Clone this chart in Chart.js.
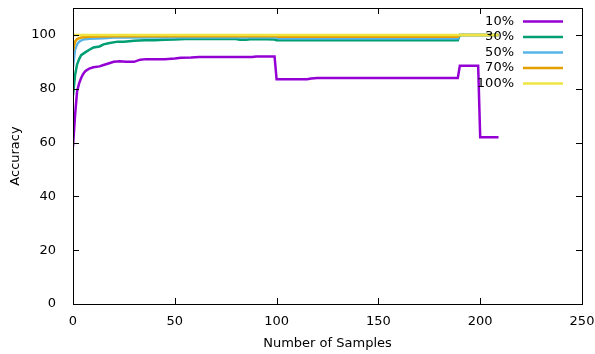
<!DOCTYPE html>
<html>
<head>
<meta charset="utf-8">
<script src="https://cdn.jsdelivr.net/npm/chart.js@4"></script>
<style>
  html, body { margin: 0; padding: 0; background: #fff; }
  #wrap { width: 595px; height: 354px; position: relative; }
</style>
</head>
<body>
<div id="wrap"><canvas id="chart"></canvas></div>
<script>
// series labels and values
const seriesLabels = ["10%", "30%", "50%", "70%", "100%"];
const seriesColors = ["#9400d3", "#009e73", "#56b4e9", "#e69f00", "#f0e442"];

const x10 = [0, 1, 2, 3, 4, 5, 6, 7, 8, 10, 13, 15, 17, 20, 23, 26, 30, 33, 36, 40, 45, 50, 53, 58, 62, 70, 80, 88, 90, 99, 100, 115, 117, 120, 150, 189, 190, 199, 200, 209];
const y10 = [58.5, 70, 79, 82, 84, 85.5, 86.5, 87, 87.5, 88, 88.3, 88.8, 89.3, 90, 90.2, 90, 90, 90.8, 91, 91, 91, 91.2, 91.5, 91.6, 91.8, 91.8, 91.8, 91.8, 92, 92, 83.5, 83.5, 83.8, 84, 84, 84, 88.5, 88.5, 62, 62];

const x30 = [0, 1, 2, 3, 4, 6, 8, 10, 13, 15, 18, 22, 25, 30, 35, 40, 45, 50, 55, 60, 80, 82, 85, 88, 95, 99, 100, 189, 190, 209];
const y30 = [77.5, 85, 89, 91, 92.5, 93.5, 94.5, 95.3, 95.7, 96.5, 97, 97.5, 97.5, 97.8, 98, 98, 98.2, 98.3, 98.5, 98.5, 98.5, 98.2, 98.2, 98.5, 98.4, 98.3, 98, 98, 100, 100];

const x50 = [0, 1, 2, 3, 5, 8, 15, 20, 100, 101, 189, 190, 209];
const y50 = [88, 94.5, 96.5, 97.5, 98.3, 98.6, 98.8, 99, 99, 98.7, 98.7, 100, 100];

const x70 = [0, 1, 2, 4, 8, 20, 100, 101, 189, 190, 209];
const y70 = [94, 97.5, 98.5, 99, 99.3, 99.5, 99.5, 99.3, 99.3, 100, 100];

const x100 = [0, 209];
const y100 = [100, 100];

const xTicks = [0, 50, 100, 150, 200, 250];
const yTicks = [0, 20, 40, 60, 80, 100];

const FONT = "DejaVu Sans";

function pts(xs, ys) {
  return xs.map((x, i) => ({ x: x, y: ys[i] }));
}

const allX = [x10, x30, x50, x70, x100];
const allY = [y10, y30, y50, y70, y100];

const datasets = seriesLabels.map((label, i) => ({
  label: label,
  data: pts(allX[i], allY[i]),
  borderColor: seriesColors[i],
  borderWidth: 2.5,
  pointRadius: 0,
  tension: 0,
  fill: false,
  order: seriesLabels.length - i,
}));

// gnuplot-like frame with inward ticks on all four sides
const framePlugin = {
  id: "frame",
  afterDraw(chart) {
    const { ctx, chartArea: a, scales } = chart;
    ctx.save();
    ctx.strokeStyle = "#000";
    ctx.lineWidth = 1;
    ctx.beginPath();
    xTicks.forEach((v) => {
      const px = Math.round(scales.x.getPixelForValue(v)) + 0.5;
      ctx.moveTo(px, a.bottom);
      ctx.lineTo(px, a.bottom - 6);
      ctx.moveTo(px, a.top);
      ctx.lineTo(px, a.top + 6);
    });
    yTicks.forEach((v) => {
      const py = Math.round(scales.y.getPixelForValue(v)) + 0.5;
      ctx.moveTo(a.left, py);
      ctx.lineTo(a.left + 6, py);
      ctx.moveTo(a.right, py);
      ctx.lineTo(a.right - 6, py);
    });
    ctx.stroke();
    ctx.strokeRect(Math.round(a.left) + 0.5, Math.round(a.top) + 0.5,
      Math.round(a.right - a.left), Math.round(a.bottom - a.top));
    ctx.restore();
  },
};

// legend in the top-right corner: text right-aligned, sample line after it
const legendPlugin = {
  id: "keyBox",
  afterDatasetsDraw(chart) {
    const { ctx } = chart;
    ctx.save();
    ctx.font = "13px '" + FONT + "'";
    ctx.textAlign = "right";
    ctx.textBaseline = "middle";
    seriesLabels.forEach((label, i) => {
      const y = 21.5 + i * 15.5;
      ctx.fillStyle = "#000";
      ctx.fillText(label, 514, y);
      ctx.strokeStyle = seriesColors[i];
      ctx.lineWidth = 2.5;
      ctx.beginPath();
      ctx.moveTo(523, y);
      ctx.lineTo(563, y);
      ctx.stroke();
    });
    ctx.restore();
  },
};

new Chart(document.getElementById("chart"), {
  type: "line",
  data: { datasets: datasets },
  options: {
    responsive: true,
    maintainAspectRatio: false,
    animation: false,
    layout: { padding: { top: 8, right: 13, left: 0, bottom: 0 } },
    plugins: { legend: { display: false }, tooltip: { enabled: false } },
    scales: {
      x: {
        type: "linear",
        min: 0,
        max: 250,
        afterBuildTicks: (s) => { s.ticks = xTicks.map((v) => ({ value: v })); },
        afterFit: (s) => { s.height = 50; s.paddingLeft = 0; s.paddingRight = 0; },
        grid: { display: false },
        border: { display: false },
        ticks: { color: "#000", font: { family: FONT, size: 13 }, padding: 2, maxRotation: 0 },
        title: { display: true, text: "Number of Samples", color: "#000", font: { family: FONT, size: 13 }, padding: { top: 0, bottom: 3 } },
      },
      y: {
        min: 0,
        max: 110,
        afterBuildTicks: (s) => { s.ticks = yTicks.map((v) => ({ value: v })); },
        afterFit: (s) => { s.width = 73; s.paddingTop = 0; s.paddingBottom = 0; },
        grid: { display: false },
        border: { display: false },
        ticks: { color: "#000", font: { family: FONT, size: 13 }, padding: 9 },
        title: { display: true, text: "Accuracy", color: "#000", font: { family: FONT, size: 13 }, padding: { top: 8, bottom: 0 } },
      },
    },
  },
  plugins: [framePlugin, legendPlugin],
});
</script>
</body>
</html>
